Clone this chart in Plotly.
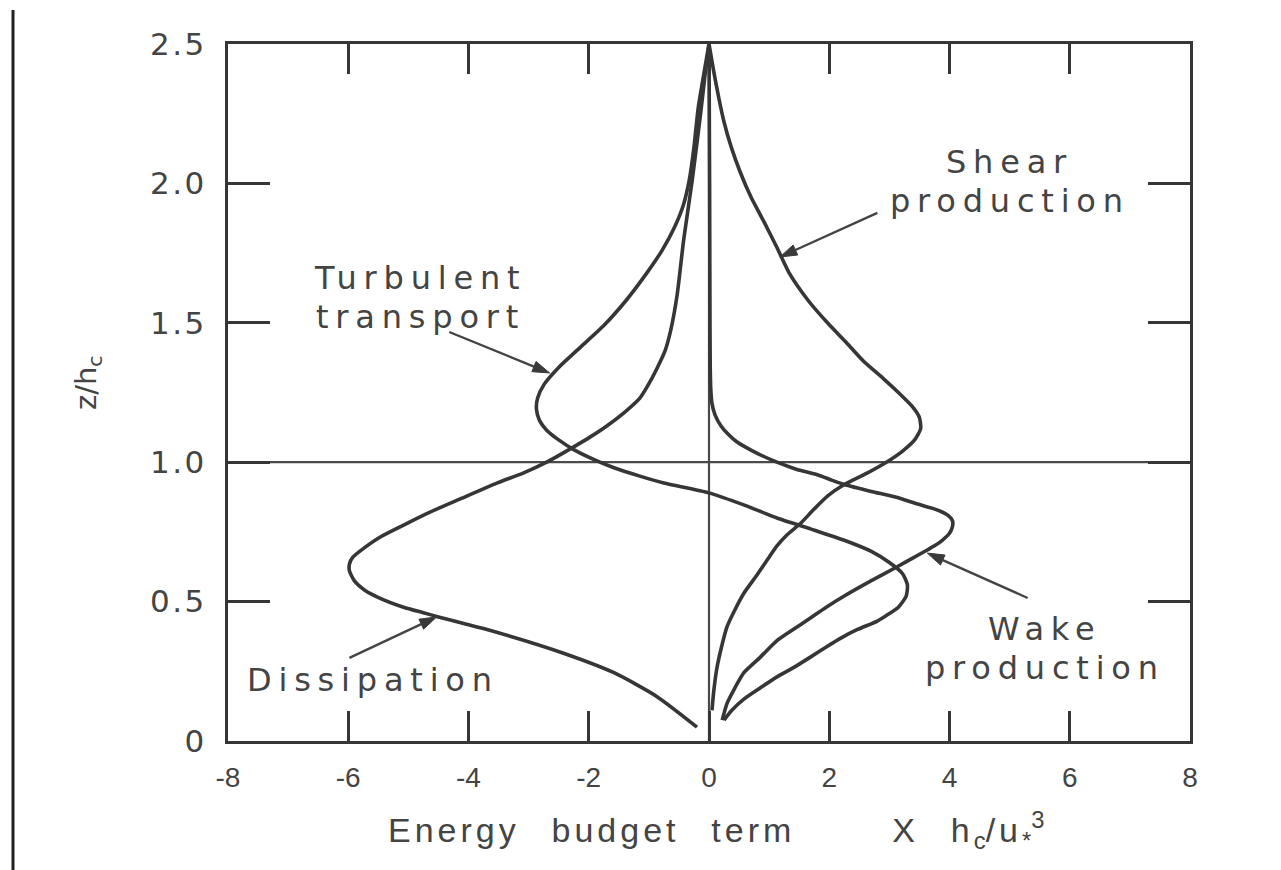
import math
import plotly.graph_objects as go

# ---- profiles of the canopy TKE budget terms (value, height z/hc) ----
shear_z = [2.50, 2.40, 2.31, 2.22, 2.13, 2.04, 1.95, 1.86, 1.77, 1.68, 1.58, 1.50, 1.43,
           1.36, 1.30, 1.25, 1.20, 1.16, 1.12, 1.08, 1.04, 1.00, 0.96, 0.92, 0.88, 0.83,
           0.78, 0.74, 0.70, 0.65, 0.59, 0.53, 0.47, 0.41, 0.33, 0.26, 0.18, 0.11]
shear_x = [0.00, 0.08, 0.16, 0.25, 0.37, 0.52, 0.70, 0.92, 1.13, 1.33, 1.65, 1.97, 2.28,
           2.58, 2.90, 3.15, 3.38, 3.50, 3.52, 3.42, 3.22, 2.95, 2.62, 2.25, 1.98, 1.74,
           1.52, 1.30, 1.13, 0.97, 0.78, 0.58, 0.43, 0.30, 0.20, 0.13, 0.08, 0.05]

transport_z = [2.50, 2.40, 2.27, 2.13, 2.01, 1.92, 1.84, 1.76, 1.68, 1.58, 1.49, 1.41, 1.34,
               1.28, 1.23, 1.19, 1.15, 1.115, 1.08, 1.045, 1.01, 0.98, 0.95, 0.925, 0.89,
               0.845, 0.80, 0.76, 0.72, 0.68, 0.64, 0.60, 0.56, 0.52, 0.48, 0.45, 0.43, 0.40,
               0.37, 0.34, 0.30, 0.265, 0.23, 0.19, 0.15, 0.11, 0.075]
transport_x = [0.00, -0.08, -0.18, -0.25, -0.33, -0.43, -0.58, -0.78, -1.03, -1.38, -1.75,
               -2.15, -2.50, -2.74, -2.85, -2.87, -2.82, -2.70, -2.50, -2.25, -1.92, -1.58,
               -1.15, -0.75, 0.00, 0.60, 1.13, 1.70, 2.25, 2.70, 3.00, 3.22, 3.30, 3.28,
               3.15, 2.95, 2.80, 2.47, 2.20, 1.97, 1.68, 1.42, 1.13, 0.85, 0.58, 0.38, 0.25]

dissip_z = [2.50, 2.40, 2.25, 2.01, 1.80, 1.60, 1.47, 1.40, 1.33, 1.27, 1.23, 1.18, 1.13,
            1.09, 1.055, 1.00, 0.96, 0.925, 0.87, 0.82, 0.77, 0.73, 0.69, 0.66, 0.635, 0.61,
            0.575, 0.54, 0.51, 0.48, 0.46, 0.445, 0.42, 0.39, 0.315, 0.245, 0.16, 0.05]
dissip_x = [0.00, -0.06, -0.14, -0.28, -0.42, -0.53, -0.64, -0.73, -0.88, -1.03, -1.15,
            -1.40, -1.70, -1.98, -2.25, -2.70, -3.10, -3.53, -4.12, -4.65, -5.12, -5.48,
            -5.75, -5.92, -5.98, -5.98, -5.90, -5.72, -5.45, -5.08, -4.75, -4.50, -4.05,
            -3.53, -2.42, -1.58, -0.87, -0.20]

wake_z = [2.50, 2.00, 1.60, 1.35, 1.26, 1.21, 1.17, 1.13, 1.10, 1.075, 1.055, 1.03, 1.00,
          0.975, 0.955, 0.935, 0.92, 0.895, 0.875, 0.85, 0.83, 0.81, 0.79, 0.77, 0.745,
          0.72, 0.70, 0.685, 0.655, 0.625, 0.575, 0.52, 0.48, 0.44, 0.40, 0.36, 0.30,
          0.245, 0.19, 0.135, 0.075]
wake_x = [0.00, 0.01, 0.015, 0.02, 0.03, 0.05, 0.10, 0.20, 0.32, 0.45, 0.60, 0.82, 1.13,
          1.45, 1.80, 2.05, 2.25, 2.70, 3.10, 3.47, 3.78, 3.97, 4.05, 4.05, 4.00, 3.88,
          3.75, 3.63, 3.38, 3.13, 2.70, 2.25, 1.95, 1.68, 1.40, 1.13, 0.85, 0.58, 0.43,
          0.30, 0.22]

x_ticks = [-8, -6, -4, -2, 0, 2, 4, 6, 8]
x_tick_text = ["-8", "-6", "-4", "-2", "0", "2", "4", "6", "8"]
y_ticks = [0, 0.5, 1.0, 1.5, 2.0, 2.5]
y_tick_text = ["0", "0.5", "1.0", "1.5", "2.0", "2.5"]

# ---- styling ----
W, H = 1281, 870
ML, MR, MT, MB = 228, 91, 44, 129
PW, PH = W - ML - MR, H - MT - MB
XR, YR = (-8, 8), (0, 2.5)
SX, SY = PW / (XR[1] - XR[0]), PH / (YR[1] - YR[0])   # pixels per data unit
INK = "#363636"
TXT = "#444444"
WIDE = "DejaVu Sans, Verdana, sans-serif"
NARROW = "Liberation Sans, Arial, sans-serif"


def spaced(s, px):
    return f'<span style="letter-spacing:{px}px">{s}</span>'


fig = go.Figure()
for xs, zs in [(shear_x, shear_z), (transport_x, transport_z),
               (dissip_x, dissip_z), (wake_x, wake_z)]:
    fig.add_trace(go.Scatter(x=xs, y=zs, mode="lines",
                             line=dict(color=INK, width=3.6, shape="spline", smoothing=0.6),
                             showlegend=False, hoverinfo="skip"))

# reference lines at the canopy top and at zero
fig.add_shape(type="line", x0=0, x1=0, y0=0, y1=2.5, xref="x", yref="y",
              line=dict(color="#4a4a4a", width=2.2), layer="below")
fig.add_shape(type="line", x0=-8, x1=8, y0=1, y1=1, xref="x", yref="y",
              line=dict(color="#4a4a4a", width=2.2), layer="below")

# page edge rule on the far left
fig.add_shape(type="line", xref="paper", yref="paper",
              x0=(13 - ML) / PW, x1=(13 - ML) / PW,
              y0=(H - MB - 10) / PH, y1=(H - MB - 870) / PH,
              line=dict(color="#222222", width=3))

# term labels (one annotation per line, tight leading)
labels = [
    ("Turbulent", -4.80, 1.662), ("transport", -4.80, 1.522),
    ("Shear", 5.00, 2.077), ("production", 5.00, 1.937),
    ("Wake", 5.58, 0.402), ("production", 5.58, 0.262),
    ("Dissipation", -5.59, 0.219),
]
for t, x, y in labels:
    fig.add_annotation(x=x, y=y, xref="x", yref="y", text=spaced(t, 6.8), showarrow=False,
                       xanchor="center", yanchor="middle",
                       font=dict(family=WIDE, size=32, color=TXT))

# leader arrows: (head x, head z, tail x, tail z)
arrows = [(-2.65, 1.32, -4.32, 1.467), (1.18, 1.736, 2.80, 1.894),
          (-4.53, 0.445, -5.98, 0.298), (3.63, 0.674, 5.30, 0.513)]
HEAD_LEN, HEAD_HALF = 17, 5.5
for hx, hz, tx, tz in arrows:
    dxp, dyp = (hx - tx) * SX, (hz - tz) * SY
    n = math.hypot(dxp, dyp)
    ux, uy = dxp / n, dyp / n
    bx, by = hx - ux * HEAD_LEN / SX, hz - uy * HEAD_LEN / SY
    fig.add_shape(type="line", x0=tx, y0=tz, x1=bx, y1=by, xref="x", yref="y",
                  line=dict(color="#444444", width=2.4))
    p1 = (bx - uy * HEAD_HALF / SX, by + ux * HEAD_HALF / SY)
    p2 = (bx + uy * HEAD_HALF / SX, by - ux * HEAD_HALF / SY)
    fig.add_shape(type="path", xref="x", yref="y",
                  path=f"M {hx},{hz} L {p1[0]},{p1[1]} L {p2[0]},{p2[1]} Z",
                  fillcolor="#3a3a3a", line=dict(color="#3a3a3a", width=1))

# axis titles
x_title = (spaced("Energy\u2002\u2009budget\u2002\u2009term\u2003\u2003\u2002X\u2002\u2009h", 4)
           + "<sub>c</sub>" + spaced("/u", 4) + "<sub>*</sub><sup>3</sup>")
fig.add_annotation(xref="paper", yref="paper", x=(716 - ML) / PW, y=-(830 - (H - MB)) / PH,
                   text=x_title, showarrow=False, xanchor="center", yanchor="middle",
                   font=dict(family=NARROW, size=34, color=TXT))
fig.add_annotation(xref="paper", yref="paper", x=(88 - ML) / PW, y=(H - MB - 383) / PH,
                   text="z/h<sub>c</sub>", textangle=-90, showarrow=False,
                   xanchor="center", yanchor="middle",
                   font=dict(family=WIDE, size=29, color=TXT))

fig.update_xaxes(range=list(XR), tickvals=x_ticks, ticktext=x_tick_text,
                 ticks="inside", ticklen=30, tickwidth=2.5, tickcolor=INK,
                 showline=True, linewidth=3, linecolor=INK, mirror="ticks",
                 showgrid=False, zeroline=False, ticklabelstandoff=9,
                 tickfont=dict(family=NARROW, size=28, color=TXT))
fig.update_yaxes(range=list(YR), tickvals=y_ticks,
                 ticktext=[spaced(t, 2.5) for t in y_tick_text],
                 ticks="inside", ticklen=42, tickwidth=2.5, tickcolor=INK,
                 showline=True, linewidth=3, linecolor=INK, mirror="ticks",
                 showgrid=False, zeroline=False, ticklabelstandoff=12,
                 tickfont=dict(family=WIDE, size=31, color=TXT))

fig.update_layout(width=W, height=H, autosize=False,
                  margin=dict(l=ML, r=MR, t=MT, b=MB),
                  paper_bgcolor="white", plot_bgcolor="white")

fig.write_html("out.html")
